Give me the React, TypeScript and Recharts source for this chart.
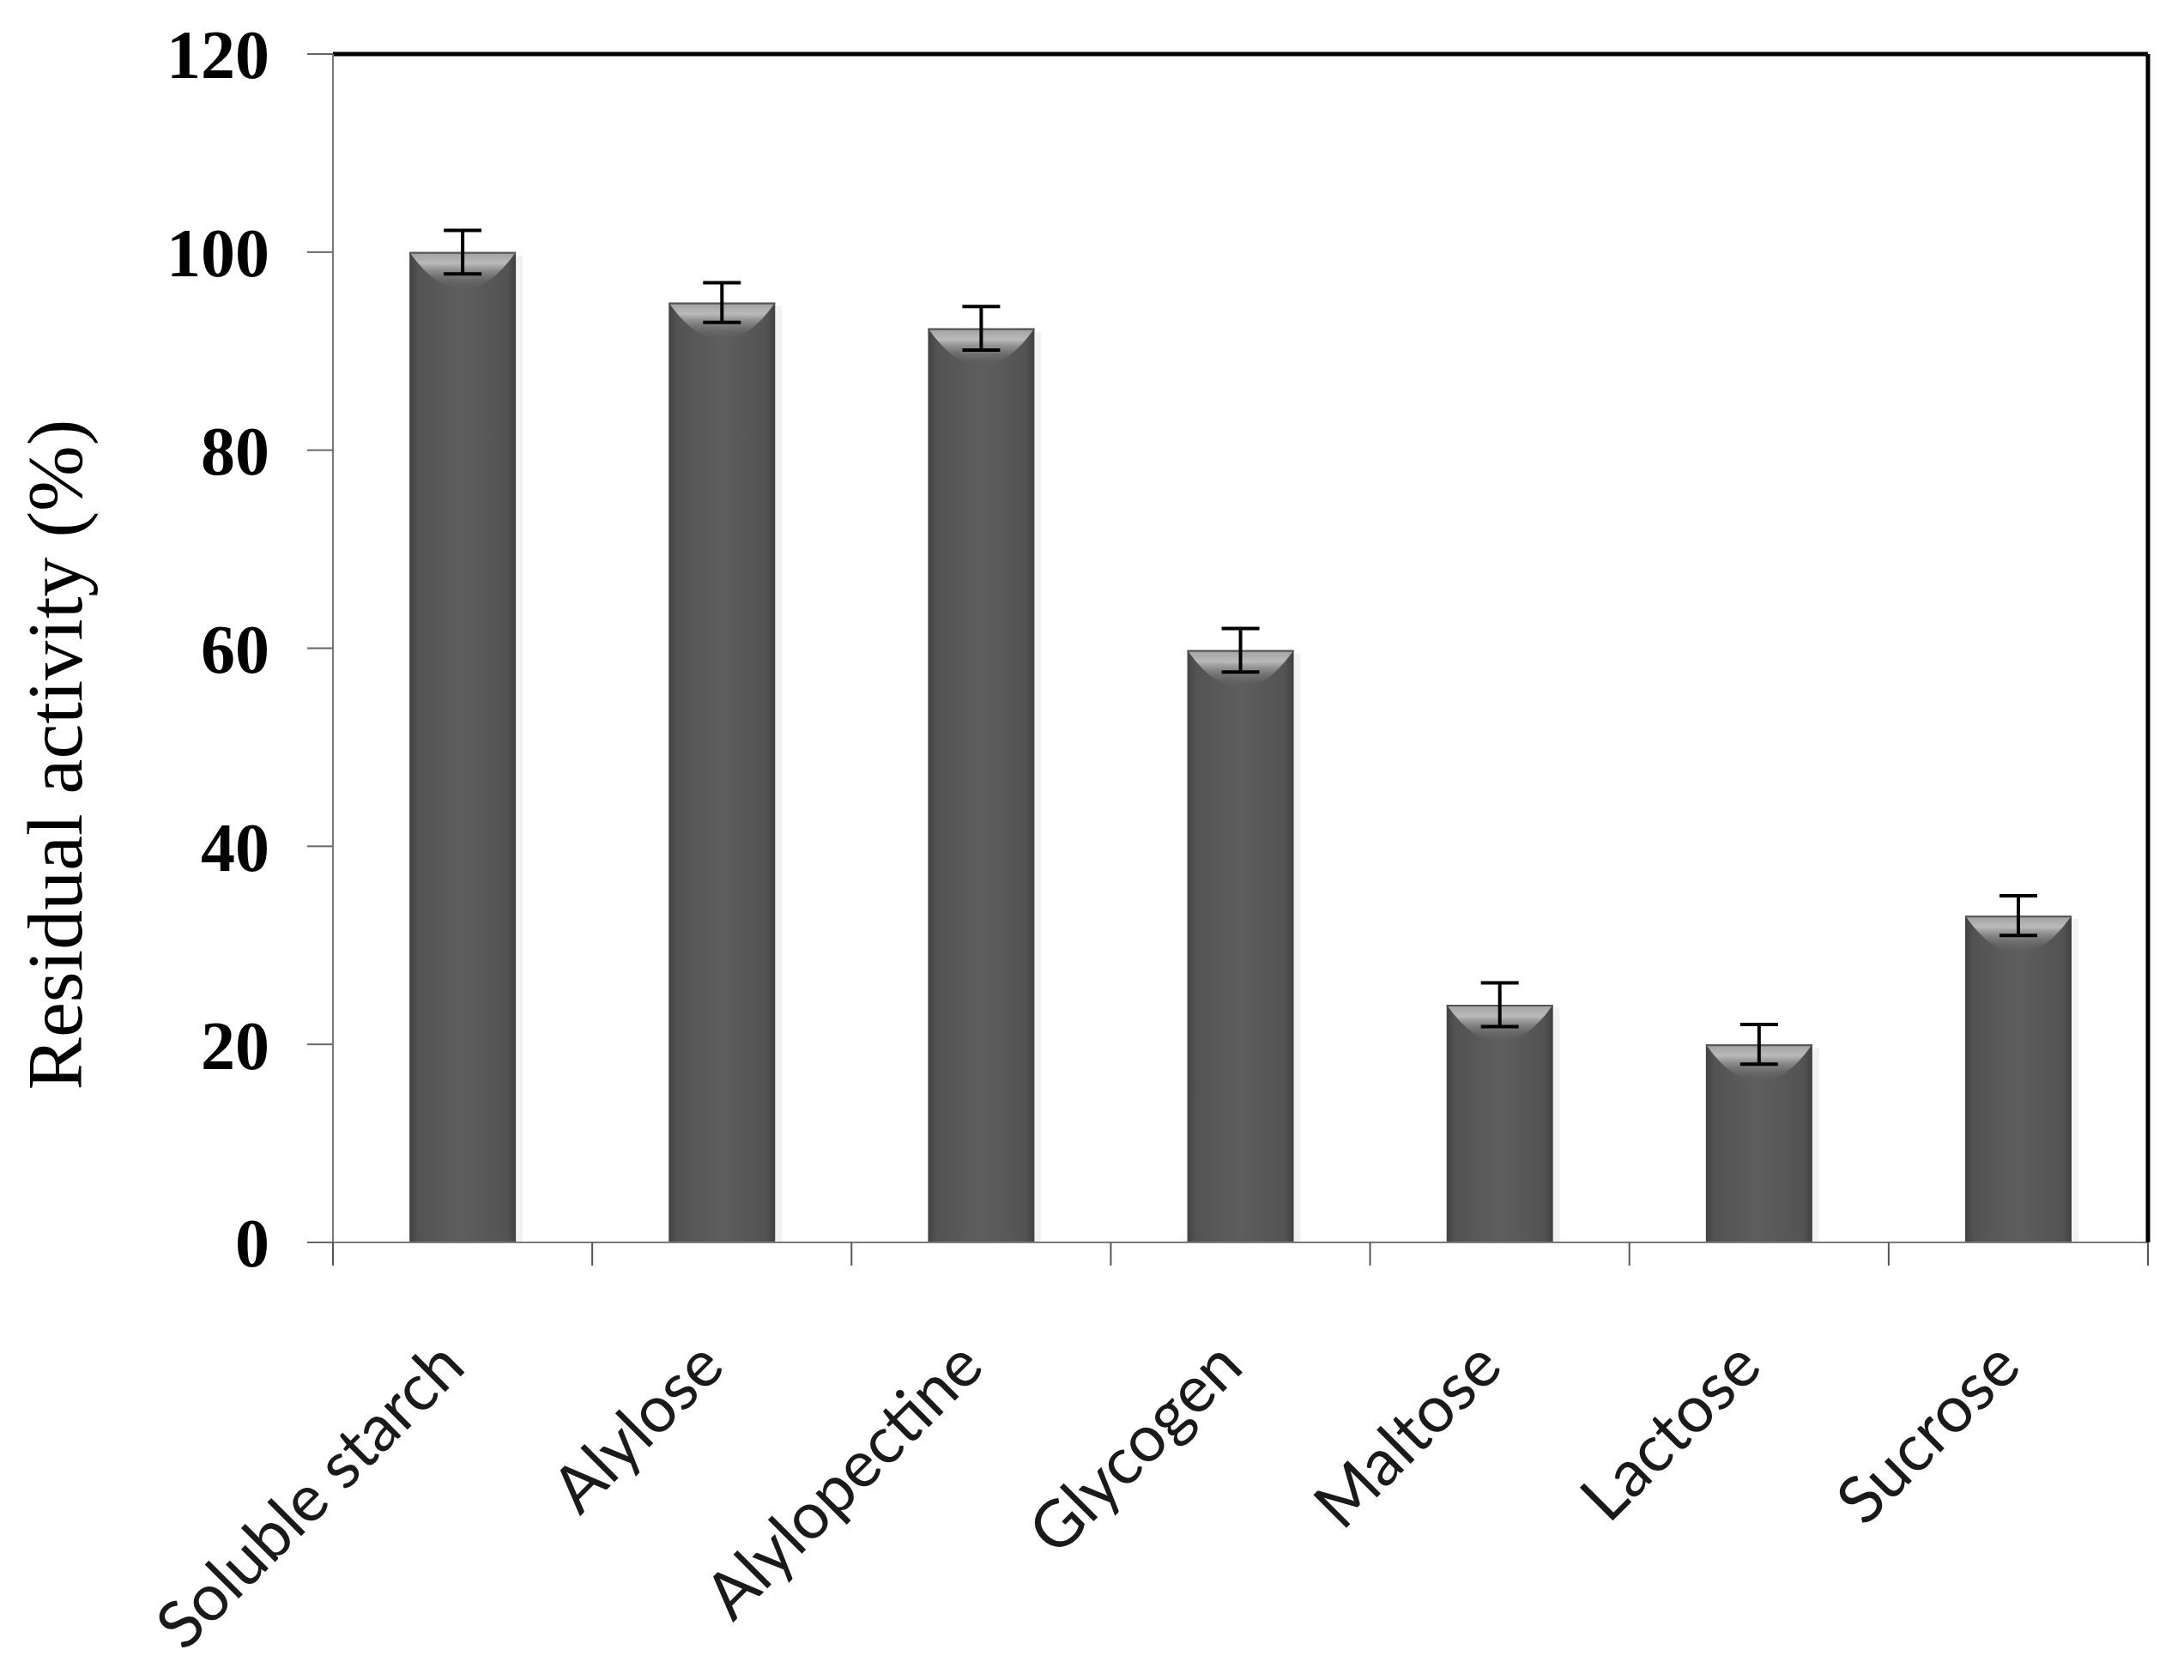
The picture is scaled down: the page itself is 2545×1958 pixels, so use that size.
import React from 'react';
import { BarChart, Bar, XAxis, YAxis, ErrorBar } from 'recharts';

// substrate specificity - residual activity (%) with SD
const substrates = ['Soluble starch', 'Alylose', 'Alylopectine', 'Glycogen', 'Maltose', 'Lactose', 'Sucrose'];
const activity = [100, 94.9, 92.3, 59.8, 24, 20, 33];
const sd = [2.2, 2.0, 2.2, 2.2, 2.2, 2.0, 2.0];
const yTicks = [0, 20, 40, 60, 80, 100, 120];

const data = substrates.map((name, i) => ({ name, value: activity[i], err: sd[i] }));

const serif = '"Liberation Serif", "Times New Roman", serif';
const sans = 'Lato, "Open Sans", sans-serif';

const BeveledBar = (props: any) => {
  const { x, y, width, height, index } = props;
  if (!height || height <= 0) return null;
  const id = `barfill-${index}`;
  const depth = Math.min(44, height);
  return (
    <g>
      <defs>
        <linearGradient id={id} x1="0" y1="0" x2="1" y2="0">
          <stop offset="0%" stopColor="#424242" />
          <stop offset="8%" stopColor="#535353" />
          <stop offset="50%" stopColor="#5e5e5e" />
          <stop offset="92%" stopColor="#535353" />
          <stop offset="100%" stopColor="#404040" />
        </linearGradient>
        <linearGradient id={`${id}-top`} x1="0" y1="0" x2="0" y2="1">
          <stop offset="0%" stopColor="#a0a0a0" />
          <stop offset="30%" stopColor="#bababa" />
          <stop offset="100%" stopColor="#5e5e5e" stopOpacity={0} />
        </linearGradient>
      </defs>
      <rect x={x + width} y={y + 4} width={8} height={height - 4} fill="#000" opacity={0.05} />
      <rect x={x} y={y} width={width} height={height} fill={`url(#${id})`} />
      <path
        d={`M${x},${y} L${x + width},${y} Q${x + width / 2},${y + depth * 2} ${x},${y} Z`}
        fill={`url(#${id}-top)`}
      />
      <line x1={x} y1={y + 1} x2={x + width} y2={y + 1} stroke="#555" strokeWidth={2} />
    </g>
  );
};

const CategoryTick = (props: any) => {
  const { x, y, payload, index } = props;
  const half = payload && payload.offset > 0 ? payload.offset : 151;
  const last = index === substrates.length - 1;
  return (
    <g>
      <line x1={x - half} y1={y} x2={x - half} y2={y + 27} stroke="#555" strokeWidth={2} />
      {last && <line x1={x + half} y1={y} x2={x + half} y2={y + 27} stroke="#555" strokeWidth={2} />}
      <text
        x={0}
        y={0}
        transform={`translate(${x + 6}, ${y + 148}) rotate(-45)`}
        textAnchor="end"
        fontFamily={sans}
        fontSize={76}
        fill="#1a1a1a"
      >
        {payload.value}
      </text>
    </g>
  );
};

const AxisTitle = (props: any) => {
  const vb = props.viewBox || { x: 0, y: 63, width: 388, height: 1385 };
  const cy = vb.y + vb.height / 2 + 124;
  return (
    <text
      x={0}
      y={0}
      transform={`translate(95, ${cy}) rotate(-90)`}
      textAnchor="middle"
      fontFamily={serif}
      fontSize={92}
      fill="#000"
    >
      Residual activity (%)
    </text>
  );
};

export default function App() {
  return (
    <div style={{ position: 'absolute', left: 0, top: 0, background: '#fff' }}>
      <BarChart
        width={2545}
        height={1958}
        data={data}
        margin={{ top: 62, right: 41, bottom: 110, left: 0 }}
        barCategoryGap="29.5%"
      >
        <XAxis
          dataKey="name"
          interval={0}
          height={400}
          tickLine={false}
          tickSize={0}
          tickMargin={0}
          axisLine={{ stroke: '#7a7a7a', strokeWidth: 2 }}
          tick={<CategoryTick />}
        />
        <XAxis
          xAxisId="top"
          dataKey="name"
          orientation="top"
          height={1}
          tick={false}
          tickLine={false}
          axisLine={{ stroke: '#000', strokeWidth: 5 }}
        />
        <YAxis
          domain={[0, 120]}
          ticks={yTicks}
          width={388}
          tickSize={30}
          tickMargin={44}
          axisLine={{ stroke: '#7a7a7a', strokeWidth: 2 }}
          tickLine={{ stroke: '#666', strokeWidth: 2 }}
          tick={{ fontFamily: serif, fontWeight: 'bold', fontSize: 80, fill: '#000' }}
          label={<AxisTitle />}
        />
        <YAxis
          yAxisId="right"
          orientation="right"
          domain={[0, 120]}
          width={1}
          tick={false}
          tickLine={false}
          axisLine={{ stroke: '#000', strokeWidth: 5 }}
        />
        <Bar dataKey="value" shape={<BeveledBar />} isAnimationActive={false}>
          <ErrorBar dataKey="err" width={22} stroke="#000" strokeWidth={4} isAnimationActive={false} />
        </Bar>
      </BarChart>
    </div>
  );
}
